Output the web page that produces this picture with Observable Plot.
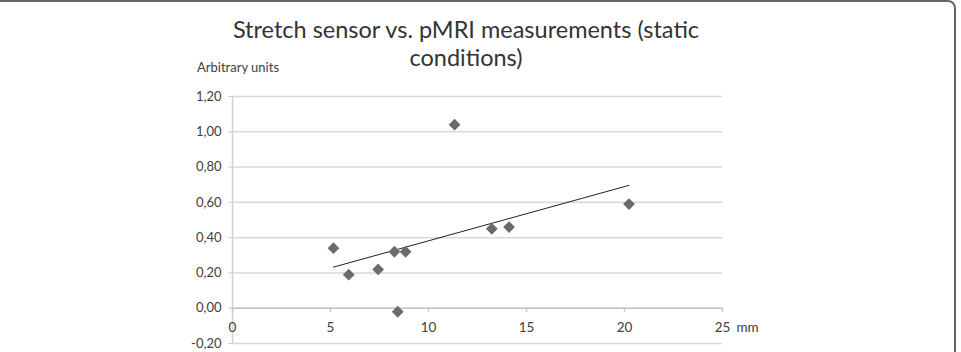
<!DOCTYPE html>
<html>
<head>
<meta charset="utf-8">
<script src="https://cdn.jsdelivr.net/npm/d3@7"></script>
<script src="https://cdn.jsdelivr.net/npm/@observablehq/plot@0.6"></script>
<style>
  html, body { margin: 0; padding: 0; background: #fff; }
  body {
    width: 961px; height: 352px; overflow: hidden; position: relative;
    font-family: Lato, "Open Sans", sans-serif; color: #404040;
  }
  #box {
    position: absolute; left: -20px; top: 0; width: 976px; height: 420px;
    border: 2px solid #666; border-radius: 8px; box-sizing: border-box;
  }
  #head { position: relative; height: 86px; }
  #title {
    position: absolute; left: 0; top: 15px; width: 932px; text-align: center;
    font-size: 23.5px; line-height: 28px; color: #333; white-space: nowrap;
  }
  #ylabel { position: absolute; left: 197px; top: 59px; font-size: 13px; color: #404040; }
  #chart { position: relative; }
</style>
</head>
<body>
<div id="box"></div>
<div id="head">
  <div id="title">Stretch sensor vs. pMRI measurements (static<br>conditions)</div>
  <div id="ylabel">Arbitrary units</div>
</div>
<div id="chart"></div>
<script>
// Displacement measured with pMRI (mm) and the matching stretch-sensor reading
const displacementMm = [5.15, 5.93, 7.43, 8.26, 8.83, 8.43, 11.33, 13.23, 14.11, 20.23];
const sensorUnits = [0.34, 0.19, 0.22, 0.32, 0.32, -0.02, 1.04, 0.45, 0.46, 0.59];

// Axis ticks
const xTicks = [0, 5, 10, 15, 20, 25];
const yTicks = [-0.2, 0, 0.2, 0.4, 0.6, 0.8, 1.0, 1.2];
const xUnit = "mm";

const points = displacementMm.map((x, i) => ({x, y: sensorUnits[i]}));
const commaFormat = (d) => d.toFixed(2).replace(".", ",");

const chart = Plot.plot({
  width: 961,
  height: 266,
  marginTop: 10,
  marginBottom: 9,
  marginLeft: 232,
  marginRight: 239,
  style: {fontFamily: "Lato, 'Open Sans', sans-serif", fontSize: "13px", color: "#404040", background: "transparent"},
  x: {domain: [0, 25], axis: null},
  y: {domain: [-0.2, 1.2], axis: null},
  marks: [
    // horizontal gridlines
    Plot.ruleY(yTicks, {stroke: "#d9d9d9", strokeWidth: 1.5}),
    // vertical axis line
    Plot.ruleX([0], {stroke: "#d0d0d0", strokeWidth: 1.5}),
    // horizontal axis line through zero
    Plot.ruleY([0], {stroke: "#c4c4c4", strokeWidth: 1.5}),
    // y ticks and labels
    Plot.axisY({ticks: yTicks, tickFormat: commaFormat, tickSize: 4, tickPadding: 7,
                stroke: "#d0d0d0", fill: "#404040", label: null, fontSize: 13}),
    // x ticks hanging below the zero line
    Plot.ruleX(xTicks, {x: (d) => d, y1: 0, y2: 0, insetBottom: -4, stroke: "#c4c4c4", strokeWidth: 1.5}),
    Plot.text(xTicks, {x: (d) => d, y: 0, dy: 19, text: (d) => String(d), fill: "#404040", fontSize: 13.5}),
    Plot.text([xUnit], {frameAnchor: "right", y: 0, dx: 14, dy: 19, textAnchor: "start", text: (d) => d, fill: "#404040", fontSize: 13.5}),
    // linear trend
    Plot.linearRegressionY(points, {x: "x", y: "y", ci: 0, stroke: "#222", strokeWidth: 1}),
    // measurements
    Plot.dot(points, {x: "x", y: "y", symbol: "diamond2", r: 5.3, fill: "#6b6b6b", stroke: "none"})
  ]
});
document.getElementById("chart").appendChild(chart);
</script>
</body>
</html>
